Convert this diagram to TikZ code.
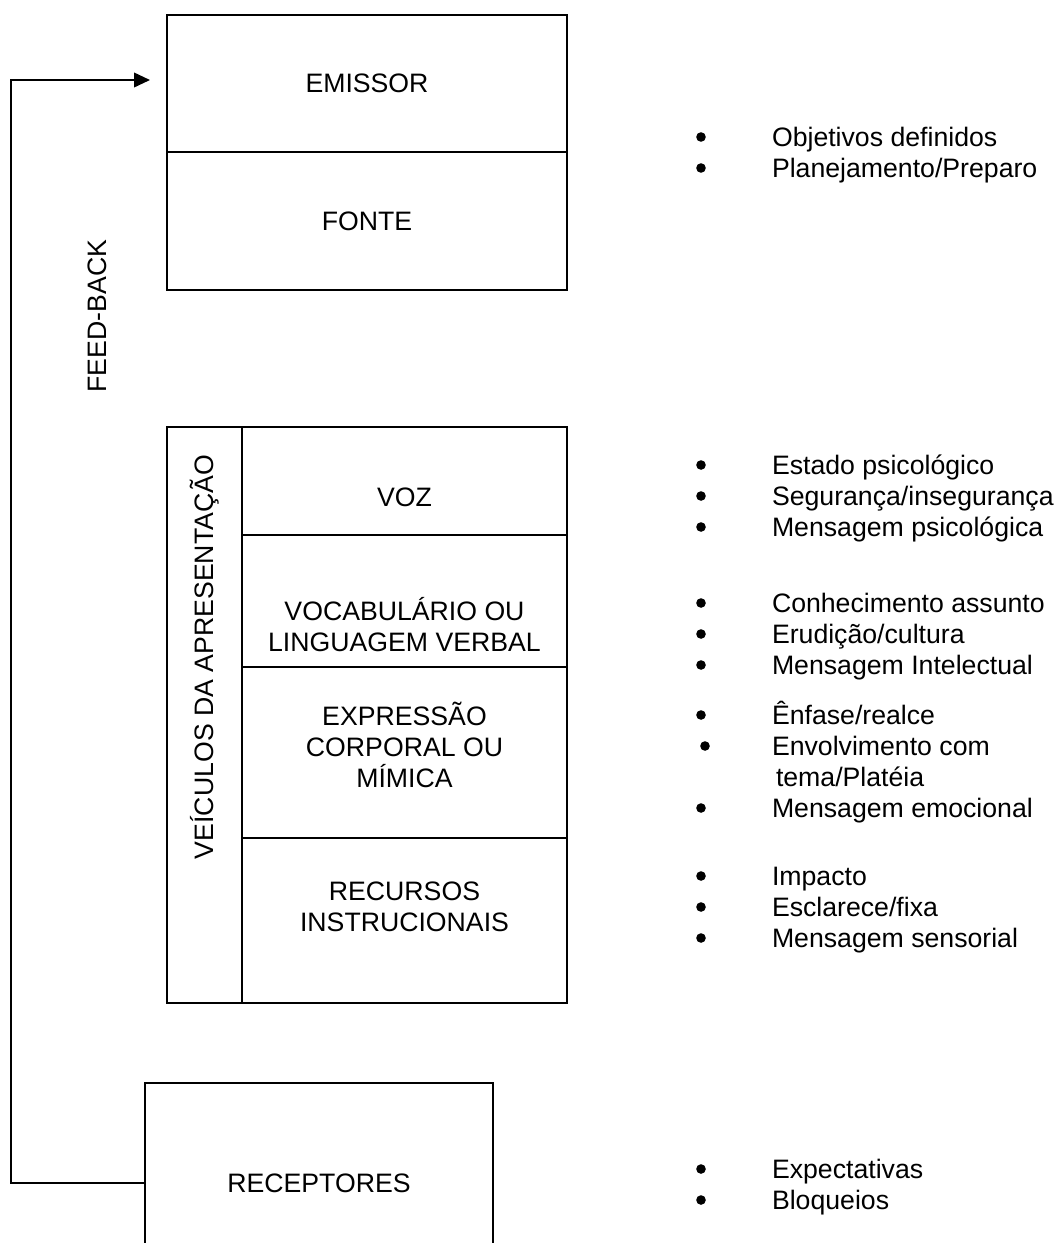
\documentclass[tikz,border=0pt]{standalone}
\usepackage{fontspec}
\setmainfont{Liberation Sans}
\usetikzlibrary{positioning, arrows.meta}

\tikzset{
    cell/.style={draw, line width=1.5pt, inner sep=0pt, outer sep=0pt, align=center},
    boxline/.style={line width=1.5pt},
    fbline/.style={line width=1.3pt, -{Triangle[length=12pt, width=11pt]}},
    lista/.style={anchor=base west, inner sep=0pt, outer sep=0pt},
    bullet/.style={fill, circle, inner sep=0pt, minimum size=7.2pt}
}

\begin{document}
\begin{tikzpicture}[x=0.75pt, y=-0.75pt, font=\fontsize{20}{23.25}\selectfont]
        \useasboundingbox (0,0) rectangle (1056,1243);
        \clip (0,0) rectangle (1056,1243);

        %%% Source block
            \node[cell, minimum width=300pt, minimum height=102.75pt, anchor=north west] (emissor) at (167,15) {EMISSOR};
            \node[cell, minimum width=300pt, minimum height=103.5pt, below=0 of emissor] (fonte) {FONTE};

        %%% Presentation vehicles
            % Left column with the rotated title
            \node[cell, minimum width=56.25pt, minimum height=432pt, anchor=north west] (veiculos) at (167,427) {};
            \node[rotate=90] (veiculosText) at (205,657) {VEÍCULOS DA APRESENTAÇÃO};

            % Right column, one cell per vehicle (text set apart, as it sits off centre)
            \node[cell, minimum width=243.75pt, minimum height=81pt, anchor=north west] (voz) at (veiculos.north east) {};
            \node[cell, minimum width=243.75pt, minimum height=99pt, below=0 of voz] (vocabulario) {};
            \node[cell, minimum width=243.75pt, minimum height=128.25pt, below=0 of vocabulario] (expressao) {};
            \node[cell, minimum width=243.75pt, minimum height=123.75pt, below=0 of expressao] (recursos) {};

            \node[yshift=-12pt] (vozText) at (voz) {VOZ};
            \node[align=center, yshift=-18pt] (vocabularioText) at (vocabulario) {VOCABULÁRIO OU\\LINGUAGEM VERBAL};
            \node[align=center, yshift=6pt] (expressaoText) at (expressao) {EXPRESSÃO\\CORPORAL OU\\MÍMICA};
            \node[align=center, yshift=10pt] (recursosText) at (recursos) {RECURSOS\\INSTRUCIONAIS};

        %%% Receivers (bottom side runs off the page)
            \node[draw=none, minimum width=261pt, minimum height=150pt, inner sep=0pt, outer sep=0pt, anchor=north west] (receptores) at (145,1083) {RECEPTORES};
            \draw[boxline] (receptores.south west) -- (receptores.north west) -- (receptores.north east) -- (receptores.south east);

        %%% Feed-back loop
            \coordinate (fbCorner) at (11,80);
            \coordinate (fbTip) at (150,80);
            \draw[fbline] (receptores.west) -| (fbCorner) -- (fbTip);
            \node[rotate=90] (feedback) at (97,316) {FEED-BACK};

        %%% Bullet lists
            \node[lista] (listaFonte) at (772,146) {\begin{tabular}[t]{@{}l@{}}
                Objetivos definidos\\
                Planejamento/Preparo
            \end{tabular}};
            \node[lista] (listaVoz) at (772,474) {\begin{tabular}[t]{@{}l@{}}
                Estado psicológico\\
                Segurança/insegurança\\
                Mensagem psicológica
            \end{tabular}};
            \node[lista] (listaVocabulario) at (772,612) {\begin{tabular}[t]{@{}l@{}}
                Conhecimento assunto\\
                Erudição/cultura\\
                Mensagem Intelectual
            \end{tabular}};
            \node[lista] (listaExpressao) at (772,724) {\begin{tabular}[t]{@{}l@{}}
                Ênfase/realce\\
                Envolvimento com\\
                \hspace*{3pt}tema/Platéia\\
                Mensagem emocional
            \end{tabular}};
            \node[lista] (listaRecursos) at (772,885) {\begin{tabular}[t]{@{}l@{}}
                Impacto\\
                Esclarece/fixa\\
                Mensagem sensorial
            \end{tabular}};
            \node[lista] (listaReceptores) at (772,1178) {\begin{tabular}[t]{@{}l@{}}
                Expectativas\\
                Bloqueios
            \end{tabular}};

            % the bullets themselves
            \foreach \y [count=\i] in {137,168,465,496,527,603,634,665,715,808,876,907,938,1169,1200}
                \node[bullet] (bullet\i) at (701,\y) {};
            \node[bullet] (bulletEnv) at (705,746) {};
\end{tikzpicture}
\end{document}
